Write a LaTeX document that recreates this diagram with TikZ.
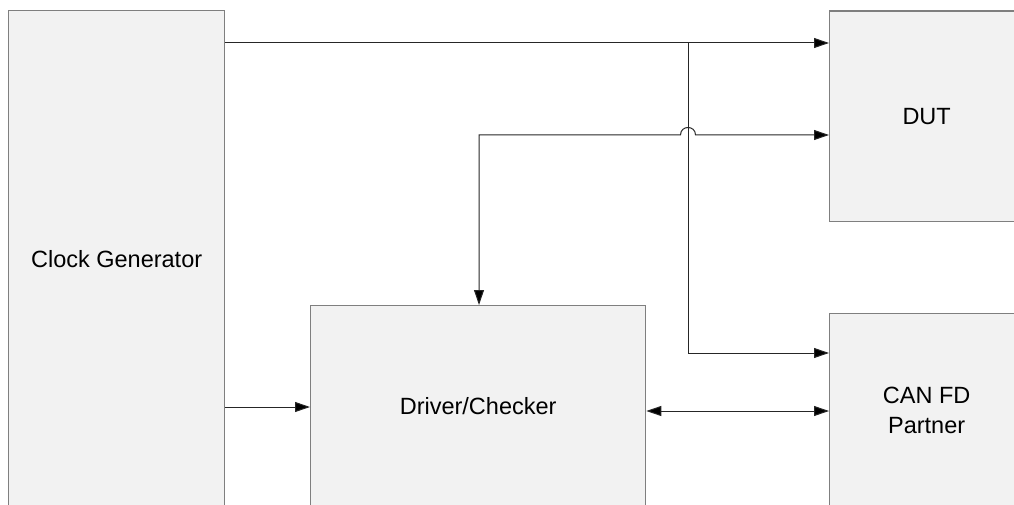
\documentclass[tikz,border=0pt]{standalone}
\usepackage{fontspec}
\setmainfont{Liberation Sans}
\usetikzlibrary{arrows.meta}
\definecolor{boxfill}{HTML}{F2F2F2}
\definecolor{boxline}{HTML}{7F7F7F}
\definecolor{wire}{HTML}{262626}
\begin{document}
\begin{tikzpicture}[x=1pt,y=-1pt,
  blk/.style={draw=boxline,fill=boxfill,line width=1.3pt,inner sep=0pt,anchor=north west,
    font=\fontsize{23.5}{30}\selectfont,align=center},
  wirestyle/.style={draw=wire,line width=1pt},
  tip/.style={-{Triangle[length=15pt,width=10pt,fill=black]}},
  tips/.style={{Triangle[length=15pt,width=10pt,fill=black]}-{Triangle[length=15pt,width=10pt,fill=black]}}]
\useasboundingbox (0,0) rectangle (1014,505);
\clip (0,0) rectangle (1014,505);
\node[blk,minimum width=216pt,minimum height=496pt] (clk) at (8,10) {Clock Generator};
\node[blk,minimum width=194pt,minimum height=210.5pt] (dut) at (829,10.5) {DUT};
\node[blk,minimum width=194pt,minimum height=194pt] (can) at (829,313) {CAN FD\\Partner};
\node[blk,minimum width=335pt,minimum height=201pt] (drv) at (310,305) {Driver/Checker};
\coordinate (ja) at (688,43);
\coordinate (jb) at (479,135);
\coordinate (jc) at (688,353);
\coordinate (jd) at (0,407);
\coordinate (je) at (0,411);
% clock to DUT
\draw[wirestyle,tip] (clk.east |- ja) -- (dut.west |- ja);
% branch down to CAN FD partner
\draw[wirestyle,tip] (ja) -- (jc) -- (can.west |- jc);
% driver <-> DUT with jump over the vertical wire
\draw[wirestyle,tips] (drv.north -| jb) -- (jb) -- (680.5,135)
  .. controls (680.5,125) and (695.5,125) .. (695.5,135) -- (dut.west |- jb);
% clock to driver
\draw[wirestyle,tip] (clk.east |- jd) -- (drv.west |- jd);
% driver <-> CAN FD
\draw[wirestyle,tips] (drv.east |- je) -- (can.west |- je);
\end{tikzpicture}
\end{document}
